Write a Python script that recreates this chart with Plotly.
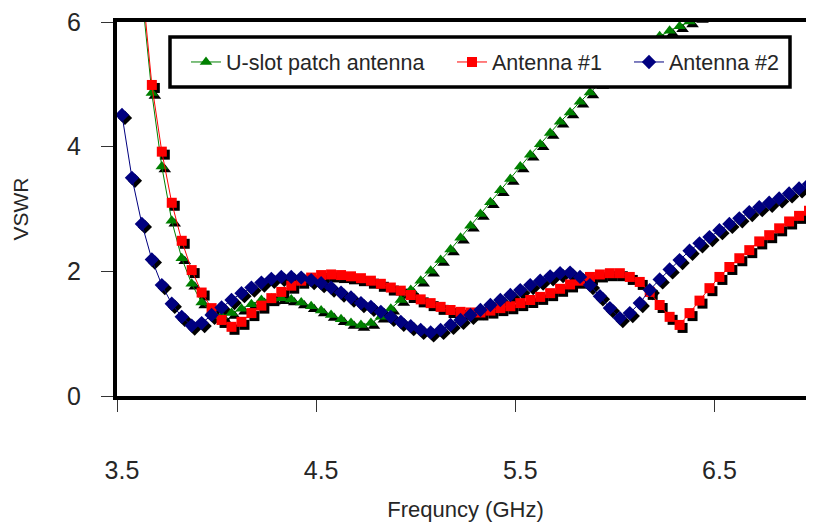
import plotly.graph_objects as go

# ---------------- data ----------------
freq = [3.50, 3.55, 3.60, 3.65, 3.70, 3.75, 3.80, 3.85, 3.90, 3.95,
        4.00, 4.05, 4.10, 4.15, 4.20, 4.25, 4.30, 4.35, 4.40, 4.45,
        4.50, 4.55, 4.60, 4.65, 4.70, 4.75, 4.80, 4.85, 4.90, 4.95,
        5.00, 5.05, 5.10, 5.15, 5.20, 5.25, 5.30, 5.35, 5.40, 5.45,
        5.50, 5.55, 5.60, 5.65, 5.70, 5.75, 5.80, 5.85, 5.90, 5.95,
        6.00, 6.05, 6.10, 6.15, 6.20, 6.25, 6.30, 6.35, 6.40, 6.45,
        6.50, 6.55, 6.60, 6.65, 6.70, 6.75, 6.80, 6.85, 6.90, 6.95]

uslot_vswr = [None, None, 6.45, 4.86, 3.68, 2.81, 2.21, 1.80, 1.50, 1.35,
              1.28, 1.33, 1.40, 1.47, 1.54, 1.56, 1.57, 1.55, 1.50, 1.44,
              1.37, 1.30, 1.23, 1.17, 1.14, 1.17, 1.27, 1.40, 1.54, 1.70,
              1.85, 2.01, 2.18, 2.35, 2.54, 2.73, 2.92, 3.11, 3.30, 3.48,
              3.68, 3.87, 4.04, 4.22, 4.40, 4.55, 4.72, 4.87, 5.02, 5.16,
              5.30, 5.43, 5.55, 5.67, 5.77, 5.86, 5.93, 6.01, 6.08, None,
              None, None, None, None, None, None, None, None, None, None]

ant1_vswr = [None, None, 6.65, 4.99, 3.92, 3.10, 2.49, 2.02, 1.66, 1.41,
             1.22, 1.11, 1.19, 1.33, 1.45, 1.57, 1.67, 1.77, 1.85, 1.90,
             1.94, 1.95, 1.94, 1.92, 1.89, 1.85, 1.80, 1.74, 1.69, 1.62,
             1.55, 1.49, 1.43, 1.38, 1.35, 1.34, 1.34, 1.37, 1.41, 1.44,
             1.49, 1.54, 1.59, 1.65, 1.72, 1.79, 1.85, 1.91, 1.95, 1.97,
             1.97, 1.91, 1.83, 1.67, 1.46, 1.27, 1.14, 1.33, 1.53, 1.73,
             1.91, 2.07, 2.21, 2.34, 2.48, 2.58, 2.69, 2.80, 2.89, 2.97]

ant2_vswr = [4.51, 3.50, 2.76, 2.19, 1.78, 1.48, 1.27, 1.13, 1.17, 1.30,
             1.42, 1.54, 1.65, 1.74, 1.82, 1.88, 1.91, 1.91, 1.90, 1.86,
             1.81, 1.74, 1.66, 1.58, 1.49, 1.43, 1.35, 1.27, 1.19, 1.12,
             1.06, 1.02, 1.06, 1.14, 1.22, 1.30, 1.38, 1.46, 1.54, 1.62,
             1.70, 1.78, 1.85, 1.92, 1.97, 1.98, 1.91, 1.78, 1.60, 1.41,
             1.25, 1.33, 1.49, 1.70, 1.87, 2.03, 2.18, 2.33, 2.45, 2.55,
             2.66, 2.76, 2.85, 2.95, 3.03, 3.10, 3.17, 3.25, 3.33, 3.40]

x_tick_vals = [3.5, 4.5, 5.5, 6.5]
x_tick_text = ["3.5", "4.5", "5.5", "6.5"]
x_boundary_ticks = [3.475, 4.475, 5.475, 6.475]
y_tick_vals = [0, 2, 4, 6]

series_names = ["U-slot patch antenna", "Antenna #1", "Antenna #2"]
series_vals = [uslot_vswr, ant1_vswr, ant2_vswr]
series_colors = ["#008000", "#FF0000", "#000080"]
series_symbols = ["triangle-up", "square", "diamond"]
series_sizes = [11, 10, 11]

# ---------------- layout geometry ----------------
# the page body has an 8px default margin; the figure is sized so that
# the plot area lands at x 117..814, y 22..396 of the window
W, H = 806, 516
ML, MR, MT, MB = 109, 0, 14, 128
OFF = 8
XR = [3.475, 6.975]
YR = [0, 6]
pw, ph = W - ML - MR, H - MT - MB
PX0, PY0 = OFF + ML, OFF + MT          # absolute plot-area origin
shadow_px = 3
dx = shadow_px * (XR[1] - XR[0]) / pw
dy = shadow_px * (YR[1] - YR[0]) / ph


def px_x(xabs):
    return (xabs - PX0) / pw


def px_y(yabs):
    return (PY0 + ph - yabs) / ph


fig = go.Figure()

# drop shadows of the markers (hidden, slightly shifted axis pair)
for vals, sym, size in zip(series_vals, series_symbols, series_sizes):
    fig.add_trace(go.Scatter(
        x=freq, y=vals, mode="markers", showlegend=False, hoverinfo="skip",
        marker=dict(symbol=sym, size=size, color="black", line=dict(width=0)),
        xaxis="x", yaxis="y"))

legend_ids = ["legend", "legend2", "legend3"]
for name, vals, color, sym, size, lg in zip(series_names, series_vals, series_colors,
                                            series_symbols, series_sizes, legend_ids):
    fig.add_trace(go.Scatter(
        x=freq, y=vals, mode="lines+markers", name=name, legend=lg,
        line=dict(color=color, width=1),
        marker=dict(symbol=sym, size=size, color=color, line=dict(width=0)),
        xaxis="x2", yaxis="y2"))

font_family = "Liberation Sans, Arial, sans-serif"
txt = "#262626"
leg_font = dict(size=21.5, color=txt, family=font_family)


def leg(xabs):
    return dict(orientation="h", x=px_x(xabs - 3), y=px_y(62),
                xanchor="left", yanchor="middle",
                bgcolor="rgba(0,0,0,0)", borderwidth=0, font=leg_font)


fig.update_layout(
    width=W, height=H,
    margin=dict(l=ML, r=MR, t=MT, b=MB),
    paper_bgcolor="white", plot_bgcolor="white",
    font=dict(family=font_family, color=txt),
    xaxis=dict(range=[XR[0] - dx, XR[1] - dx], visible=False, fixedrange=True),
    yaxis=dict(range=[YR[0] + dy, YR[1] + dy], visible=False, fixedrange=True),
    xaxis2=dict(
        overlaying="x", anchor="y2", side="bottom", range=XR,
        showline=True, linecolor="black", linewidth=4, mirror=True,
        showgrid=False, zeroline=False,
        tickmode="array", tickvals=x_tick_vals, ticktext=x_tick_text,
        ticks="", ticklabelstandoff=49, ticklabeloverflow="allow",
        tickfont=dict(size=25, color=txt),
        minor=dict(tickmode="array", tickvals=x_boundary_ticks, ticks="outside",
                   ticklen=12, tickwidth=1, tickcolor="#333333", showgrid=False),
        title=dict(text="Frequncy (GHz)", font=dict(size=22, color=txt), standoff=20),
    ),
    yaxis2=dict(
        overlaying="y", anchor="x2", side="left", range=YR,
        showline=True, linecolor="black", linewidth=4,
        showgrid=False, zeroline=False,
        tickmode="array", tickvals=y_tick_vals,
        ticks="outside", ticklen=12, tickwidth=1, tickcolor="#333333",
        ticklabelstandoff=15, ticklabeloverflow="allow",
        tickfont=dict(size=25, color=txt),
        title=dict(text="VSWR", font=dict(size=21, color=txt), standoff=34),
    ),
    legend=leg(189),
    legend2=leg(455),
    legend3=leg(632),
    shapes=[dict(type="rect", xref="paper", yref="paper",
                 x0=px_x(170), x1=px_x(790), y0=px_y(87), y1=px_y(37),
                 line=dict(color="black", width=3.5), fillcolor="white",
                 layer="above")],
)

fig.write_html("out.html")
